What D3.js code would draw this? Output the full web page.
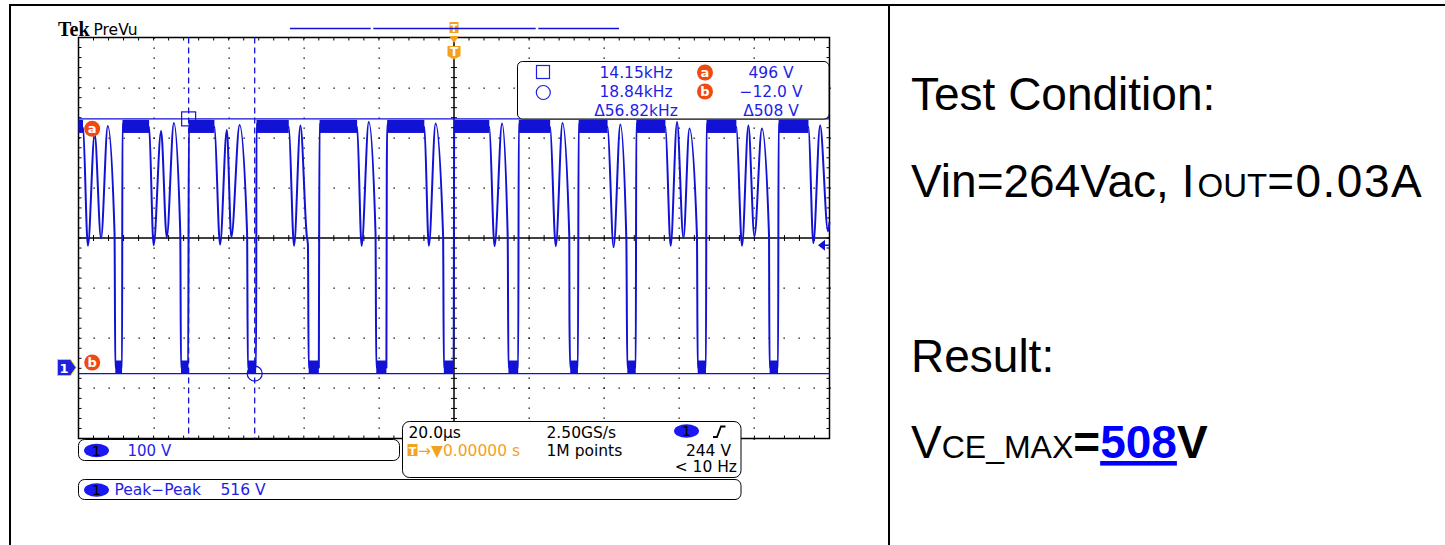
<!DOCTYPE html>
<html>
<head>
<meta charset="utf-8">
<script src="https://cdn.jsdelivr.net/npm/d3@7"></script>
<style>
  html, body { margin: 0; padding: 0; background: #fff; }
  svg { display: block; }
</style>
</head>
<body>
<svg id="scope" width="1445" height="545"></svg>
<script>
// ---------------- acquisition settings ----------------
const timePerDiv = 20;            // µs / div
const voltsPerDiv = 100;          // V / div (channel 1)
const screenCenterVolts = 258.4;  // channel 1 offset: ground sits ~2.6 div below centre
const triggerLevel = 244;         // V
const cursorA = 496;              // V  (horizontal cursor a)
const cursorB = -12.0;            // V  (horizontal cursor b)
const cursorT1 = -1000 / 14.15;   // µs (vertical cursor, square)
const cursorT2 = -1000 / 18.84;   // µs (vertical cursor, circle)

// ---------------- channel 1 trace: [time µs, volts] ----------------
const trace = [
  [-100, 480], [-98.8, 478],
  [-97.5, 243], [-95.7, 466], [-94.0, 258], [-92.2, 482], [-90.4, 268],
  [-90.2, 0], [-88.4, 0], [-88.3, 486],
  [-81.2, 480],
  [-80.0, 244], [-78.0, 472], [-76.5, 260], [-74.6, 488], [-72.9, 268],
  [-72.7, 0], [-70.8, 0], [-70.6, 486],
  [-63.8, 480],
  [-62.3, 245], [-60.5, 474], [-59.3, 260], [-57.1, 484], [-55.1, 268],
  [-54.9, 0], [-52.7, 0], [-52.6, 486],
  [-44.0, 480],
  [-42.6, 243], [-40.9, 483], [-39.2, 262], [-38.9, 245],
  [-38.7, 0], [-36.0, 0], [-35.95, 134], [-35.8, 486],
  [-25.8, 480],
  [-24.6, 243], [-22.7, 490], [-20.9, 268],
  [-20.7, 0], [-18.0, 0], [-17.9, 387], [-17.8, 486],
  [-7.9, 480],
  [-6.7, 243], [-4.9, 487], [-2.9, 262],
  [-2.7, 0], [-0.1, 0], [0.05, 486],
  [9.4, 480],
  [10.8, 242], [12.8, 487], [14.3, 262],
  [14.5, 0], [17.1, 0], [17.25, 486],
  [25.6, 480],
  [27.1, 242], [28.9, 488], [30.7, 262], [30.75, 94],
  [30.95, 0], [33.0, 0], [33.2, 486],
  [40.9, 480],
  [42.5, 240], [44.3, 485], [45.9, 255],
  [46.15, 0], [48.4, 0], [48.55, 486],
  [56.3, 480],
  [57.7, 243], [59.4, 490], [61.1, 258], [62.7, 477], [64.7, 264],
  [64.9, 0], [67.1, 0], [67.25, 486],
  [75.2, 480],
  [76.7, 243], [78.4, 483], [80.0, 262], [82.0, 477], [83.9, 262], [83.95, 131],
  [84.05, 0], [86.3, 0], [86.45, 486],
  [94.4, 480],
  [95.7, 248], [97.5, 483], [99.6, 272], [100, 290]
];

// switch-off plateaus and switch-on intervals (noise envelope, µs)
const plateaus = [[-100, -98.8], [-88.3, -81.2], [-70.6, -63.8], [-52.6, -44.0], [-35.8, -25.8],
                  [-17.8, -7.9], [0.05, 9.4], [17.25, 25.6], [33.2, 40.9], [48.55, 56.3],
                  [67.25, 75.2], [86.45, 94.4]];
const onTimes = [[-90.2, -88.4], [-72.7, -70.8], [-54.9, -52.7], [-38.7, -36.0], [-20.7, -18.0],
                 [-2.7, -0.1], [14.5, 17.1], [30.95, 33.0], [46.15, 48.4], [64.9, 67.1], [84.05, 86.3]];
const plateauBand = [468, 494];   // V
const onBand = [-12, 14];         // V

// ---------------- readout texts ----------------
const cursorReadout = [["14.15kHz", "496 V"], ["18.84kHz", "\u221212.0 V"], ["\u039456.82kHz", "\u0394508 V"]];
const channelScale = "100 V";
const timebase = ["20.0\u00b5s", "2.50GS/s", "1M points"];
const triggerReadout = ["244 V", "< 10 Hz"];
const triggerPos = "\u2192\u25bc0.00000 s";
const measurement = ["Peak\u2212Peak", "516 V"];
const conditionLines = ["Test Condition:", "Result:"];
const vinText = ["Vin=264Vac, I", "OUT", "=0.03A"];
const vceMax = cursorA - cursorB;   // 508 V

// ---------------- colours / fonts ----------------
const BLUE = "#1212d6", TXTBLUE = "#1e1ee6", ORANGE = "#f3a21f", BADGE = "#f04a12";
const TEK = "DejaVu Sans";
const W = 1445, H = 545;

const svg = d3.select("#scope");
svg.append("rect").attr("width", W).attr("height", H).attr("fill", "#fff");

// page frame
const frame = svg.append("g").attr("stroke", "#000").attr("stroke-width", 2);
frame.append("line").attr("x1", 9).attr("x2", W).attr("y1", 5).attr("y2", 5);
frame.append("line").attr("x1", 10).attr("x2", 10).attr("y1", 4).attr("y2", H);
frame.append("line").attr("x1", 889).attr("x2", 889).attr("y1", 4).attr("y2", H);

// scales
const plot = { left: 78.5, right: 829.5, top: 37.5, bottom: 438.5 };
const x = d3.scaleLinear().domain([-5 * timePerDiv, 5 * timePerDiv]).range([plot.left, plot.right]);
const y = d3.scaleLinear()
  .domain([screenCenterVolts - 4 * voltsPerDiv, screenCenterVolts + 4 * voltsPerDiv])
  .range([plot.bottom, plot.top]);
const [v0, v1] = y.domain();

// ---------------- graticule ----------------
const grat = svg.append("g");
const tMinor = d3.range(-100, 100.001, timePerDiv / 5);
const vMinor = d3.range(v0, v1 + 0.001, voltsPerDiv / 5);
const tMajor = d3.range(-100 + timePerDiv, 100, timePerDiv).filter(t => Math.abs(t) > 1e-6);
const vMajor = d3.range(v0 + voltsPerDiv, v1 - 1, voltsPerDiv).filter(v => Math.abs(v - screenCenterVolts) > 1e-6);

const dots = [];
tMajor.forEach(t => vMinor.forEach(v => dots.push([x(t), y(v)])));
vMajor.forEach(v => tMinor.forEach(t => dots.push([x(t), y(v)])));
grat.selectAll("rect.dot").data(dots).join("rect").attr("class", "dot")
  .attr("x", d => Math.round(d[0]) - 0.5).attr("y", d => Math.round(d[1]) - 0.5)
  .attr("width", 1.3).attr("height", 1.3).attr("fill", "#000");

const ticks = [];
const cx = x(0), cy = y(screenCenterVolts);
vMinor.forEach(v => {
  ticks.push([plot.left, y(v), plot.left + 3, y(v)]);
  ticks.push([plot.right - 3, y(v), plot.right, y(v)]);
  ticks.push([cx - 3, y(v), cx + 3, y(v)]);
});
tMinor.forEach(t => {
  ticks.push([x(t), plot.top, x(t), plot.top + 3]);
  ticks.push([x(t), plot.bottom - 3, x(t), plot.bottom]);
  ticks.push([x(t), cy - 3, x(t), cy + 3]);
});
grat.selectAll("line.tick").data(ticks).join("line").attr("class", "tick")
  .attr("x1", d => d[0]).attr("y1", d => d[1]).attr("x2", d => d[2]).attr("y2", d => d[3])
  .attr("stroke", "#000").attr("stroke-width", 1);

grat.append("rect").attr("x", plot.left).attr("y", plot.top)
  .attr("width", plot.right - plot.left).attr("height", plot.bottom - plot.top)
  .attr("fill", "none").attr("stroke", "#000").attr("stroke-width", 1.5);
grat.append("line").attr("x1", plot.left).attr("x2", plot.right).attr("y1", cy).attr("y2", cy)
  .attr("stroke", "#000").attr("stroke-width", 1.5);
grat.append("line").attr("x1", cx).attr("x2", cx).attr("y1", plot.top).attr("y2", plot.bottom)
  .attr("stroke", "#000").attr("stroke-width", 1.5);

// ---------------- cursors ----------------
const cur = svg.append("g").attr("stroke", BLUE).attr("fill", "none");
[cursorT1, cursorT2].forEach(t => {
  cur.append("line").attr("x1", x(t)).attr("x2", x(t)).attr("y1", plot.top).attr("y2", plot.bottom)
    .attr("stroke-width", 1.3).attr("stroke-dasharray", "6,4");
});
[cursorA, cursorB].forEach(v => {
  cur.append("line").attr("x1", plot.left).attr("x2", plot.right).attr("y1", y(v)).attr("y2", y(v))
    .attr("stroke-width", 1.3);
});
cur.append("rect").attr("x", x(cursorT1) - 7).attr("y", y(cursorA) - 7).attr("width", 14).attr("height", 14)
  .attr("stroke-width", 1.2);
cur.append("circle").attr("cx", x(cursorT2)).attr("cy", y(cursorB)).attr("r", 7.5).attr("stroke-width", 1.2);

// ---------------- channel 1 waveform ----------------
const wave = svg.append("g");
wave.selectAll("rect.plateau").data(plateaus).join("rect").attr("class", "plateau")
  .attr("x", d => x(d[0])).attr("width", d => x(d[1]) - x(d[0]))
  .attr("y", y(plateauBand[1])).attr("height", y(plateauBand[0]) - y(plateauBand[1]))
  .attr("fill", BLUE);
wave.selectAll("rect.on").data(onTimes).join("rect").attr("class", "on")
  .attr("x", d => x(d[0])).attr("width", d => x(d[1]) - x(d[0]))
  .attr("y", y(onBand[1])).attr("height", y(onBand[0]) - y(onBand[1]))
  .attr("fill", BLUE);
const line = d3.line().x(d => x(d[0])).y(d => y(d[1])).curve(d3.curveMonotoneX);
wave.append("path").datum(trace).attr("d", line)
  .attr("fill", "none").attr("stroke", BLUE).attr("stroke-width", 2).attr("stroke-linejoin", "round");

// ---------------- markers around the graticule ----------------
function badge(cxp, cyp, letter) {
  const b = svg.append("g");
  b.append("circle").attr("cx", cxp).attr("cy", cyp).attr("r", 8).attr("fill", BADGE);
  b.append("text").attr("x", cxp).attr("y", cyp + 4.5).attr("text-anchor", "middle")
    .attr("font-family", TEK).attr("font-weight", "bold").attr("font-size", 13).attr("fill", "#fff").text(letter);
}
badge(92.2, 128.8, "a");
badge(92.2, 362.5, "b");

// channel 1 ground reference
const gnd = svg.append("g");
const gy0 = y(0);
gnd.append("path")
  .attr("d", `M57.5,${gy0 - 8} L70.5,${gy0 - 8} L76,${gy0} L70.5,${gy0 + 8} L57.5,${gy0 + 8} Z`)
  .attr("fill", "#2020e0").attr("stroke", "#d6d600").attr("stroke-width", 1);
gnd.append("text").attr("x", 64).attr("y", gy0 + 5).attr("text-anchor", "middle")
  .attr("font-family", TEK).attr("font-weight", "bold").attr("font-size", 13).attr("fill", "#fff").text("1");

// trigger level arrow (right edge)
const ty = y(triggerLevel);
svg.append("path").attr("d", `M818,${ty} L825,${ty - 5.5} L825,${ty + 5.5} Z`).attr("fill", BLUE);
svg.append("line").attr("x1", 824).attr("x2", plot.right).attr("y1", ty).attr("y2", ty)
  .attr("stroke", BLUE).attr("stroke-width", 1.5);

// trigger position markers (top)
const tx = x(0);
const trig = svg.append("g");
trig.append("rect").attr("x", tx - 4.5).attr("y", 22).attr("width", 9).attr("height", 11).attr("fill", ORANGE);
trig.append("text").attr("x", tx).attr("y", 31.5).attr("text-anchor", "middle").attr("font-family", TEK)
  .attr("font-weight", "bold").attr("font-size", 10).attr("fill", "#fff").text("T");
trig.append("path").attr("d", `M${tx - 5},36 L${tx + 5},36 L${tx},43 Z`).attr("fill", ORANGE);
trig.append("path")
  .attr("d", `M${tx - 6.5},46 L${tx + 6.5},46 L${tx + 6.5},56 L${tx},59.5 L${tx - 6.5},56 Z`)
  .attr("fill", ORANGE);
trig.append("text").attr("x", tx).attr("y", 56).attr("text-anchor", "middle").attr("font-family", TEK)
  .attr("font-weight", "bold").attr("font-size", 12).attr("fill", "#fff").text("T");

// record view bar
const bar = svg.append("g").attr("stroke", BLUE).attr("stroke-width", 1.3);
[[290, 370.7], [373.3, 535.7], [538.3, 619]].forEach(s =>
  bar.append("line").attr("x1", s[0]).attr("x2", s[1]).attr("y1", 28.5).attr("y2", 28.5));

// Tek PreVu
svg.append("text").attr("x", 58).attr("y", 35.5).attr("font-family", "Liberation Serif")
  .attr("font-weight", "bold").attr("font-size", 20).attr("fill", "#000").text("Tek");
svg.append("text").attr("x", 93.5).attr("y", 34.5).attr("font-family", TEK)
  .attr("font-size", 15.5).attr("fill", "#000").text("PreVu");

// ---------------- cursor readout box ----------------
const rb = svg.append("g");
rb.append("rect").attr("x", 517.5).attr("y", 61.5).attr("width", 311.5).attr("height", 57.5).attr("rx", 5)
  .attr("fill", "#fff").attr("stroke", "#000").attr("stroke-width", 1);
rb.append("rect").attr("x", 536.5).attr("y", 65.5).attr("width", 13).attr("height", 13)
  .attr("fill", "none").attr("stroke", TXTBLUE).attr("stroke-width", 1.2);
rb.append("circle").attr("cx", 543.3).attr("cy", 92.5).attr("r", 7)
  .attr("fill", "none").attr("stroke", TXTBLUE).attr("stroke-width", 1.2);
badge(705, 72.5, "a");
badge(705, 91.5, "b");
const rowY = [78.3, 97.3, 116];
cursorReadout.forEach((r, i) => {
  rb.append("text").attr("x", 636).attr("y", rowY[i]).attr("text-anchor", "middle")
    .attr("font-family", TEK).attr("font-size", 15.5).attr("fill", TXTBLUE).text(r[0]);
  rb.append("text").attr("x", 771).attr("y", rowY[i]).attr("text-anchor", "middle")
    .attr("font-family", TEK).attr("font-size", 15.5).attr("fill", TXTBLUE).text(r[1]);
});

// ---------------- bottom readouts ----------------
function pill(cxp, cyp) {
  svg.append("ellipse").attr("cx", cxp).attr("cy", cyp).attr("rx", 12.5).attr("ry", 6.7).attr("fill", "#1a1af0");
  svg.append("text").attr("x", cxp).attr("y", cyp + 5).attr("text-anchor", "middle").attr("font-family", TEK)
    .attr("font-size", 14).attr("fill", "#000").text("1");
}
// channel scale box
svg.append("rect").attr("x", 78.5).attr("y", 439.5).attr("width", 321).attr("height", 21).attr("rx", 6)
  .attr("fill", "#fff").attr("stroke", "#000").attr("stroke-width", 1);
pill(96.5, 450.5);
svg.append("text").attr("x", 127.5).attr("y", 455.5).attr("font-family", TEK).attr("font-size", 15)
  .attr("fill", TXTBLUE).text(channelScale);

// timebase / trigger box
svg.append("rect").attr("x", 402.5).attr("y", 421.5).attr("width", 338.5).attr("height", 56).attr("rx", 7)
  .attr("fill", "#fff").attr("stroke", "#000").attr("stroke-width", 1);
svg.append("text").attr("x", 408.5).attr("y", 437.5).attr("font-family", TEK).attr("font-size", 15.5)
  .attr("fill", "#000").text(timebase[0]);
svg.append("text").attr("x", 546.5).attr("y", 437.5).attr("font-family", TEK).attr("font-size", 15.5)
  .attr("fill", "#000").text(timebase[1]);
svg.append("text").attr("x", 546.5).attr("y", 455.5).attr("font-family", TEK).attr("font-size", 15.5)
  .attr("fill", "#000").text(timebase[2]);
pill(686.5, 431);
svg.append("path").attr("d", "M713,437 L717,437 L721,426.5 L725.5,426.5").attr("fill", "none")
  .attr("stroke", "#000").attr("stroke-width", 1.8);
svg.append("text").attr("x", 731).attr("y", 455.5).attr("text-anchor", "end").attr("font-family", TEK)
  .attr("font-size", 15.5).attr("fill", "#000").text(triggerReadout[0]);
svg.append("text").attr("x", 737).attr("y", 472).attr("text-anchor", "end").attr("font-family", TEK)
  .attr("font-size", 15.5).attr("fill", "#000").text(triggerReadout[1]);
svg.append("rect").attr("x", 407.5).attr("y", 444).attr("width", 10).attr("height", 12).attr("fill", ORANGE);
svg.append("text").attr("x", 412.5).attr("y", 454.5).attr("text-anchor", "middle").attr("font-family", TEK)
  .attr("font-weight", "bold").attr("font-size", 11).attr("fill", "#fff").text("T");
svg.append("text").attr("x", 418).attr("y", 455.5).attr("font-family", TEK).attr("font-size", 15.5)
  .attr("fill", ORANGE).text(triggerPos);

// measurement box
svg.append("rect").attr("x", 78.5).attr("y", 479.5).attr("width", 662.5).attr("height", 20).attr("rx", 6)
  .attr("fill", "#fff").attr("stroke", "#000").attr("stroke-width", 1);
pill(96.5, 490);
svg.append("text").attr("x", 114.5).attr("y", 495).attr("font-family", TEK).attr("font-size", 15.5)
  .attr("fill", TXTBLUE).text(measurement[0]);
svg.append("text").attr("x", 220.5).attr("y", 495).attr("font-family", TEK).attr("font-size", 15.5)
  .attr("fill", TXTBLUE).text(measurement[1]);

// ---------------- test condition panel ----------------
const SANS = "Liberation Sans, Arial, sans-serif";
const panel = svg.append("g").attr("font-family", SANS).attr("font-size", 46).attr("fill", "#000");
panel.append("text").attr("x", 911).attr("y", 110).text(conditionLines[0]);
const vin = panel.append("text").attr("x", 911).attr("y", 197);
vin.append("tspan").text(vinText[0]);
vin.append("tspan").attr("dx", 3).attr("font-size", 33).text(vinText[1]);
vin.append("tspan").attr("letter-spacing", 1.5).text(vinText[2]);
panel.append("text").attr("x", 911).attr("y", 372).text(conditionLines[1]);
const vce = panel.append("text").attr("x", 911).attr("y", 458);
vce.append("tspan").text("V");
vce.append("tspan").attr("font-size", 32).text("CE_MAX");
vce.append("tspan").attr("font-weight", "bold").text("=");
vce.append("tspan").attr("font-weight", "bold").attr("fill", "#0000ff")
  .style("text-decoration", "underline").text(d3.format("d")(vceMax));
vce.append("tspan").attr("font-weight", "bold").text("V");
</script>
</body>
</html>
